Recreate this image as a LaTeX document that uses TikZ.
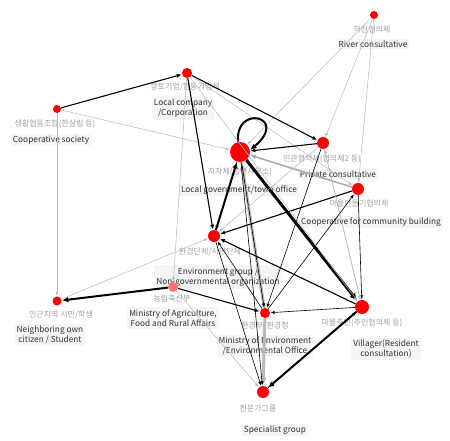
\documentclass[tikz,border=0pt]{standalone}
\usepackage{fontspec}
\setmainfont{Noto Sans CJK KR}
\usetikzlibrary{arrows.meta}
\begin{document}
\begin{tikzpicture}[x=1pt,y=-1pt,
  dot/.style={circle,fill=red,draw=none,inner sep=0pt,minimum size=#1},
  kr/.style={text=gray!75, font=\fontsize{8}{9}\selectfont, inner sep=1pt},
  en/.style={text=black!80, font=\fontsize{8.3}{10.5}\selectfont, fill=black!4, align=center, inner sep=2pt},
  e/.style={-{Latex[length=3pt 1.6,width=2.4pt 1.6]}, shorten >=0.5pt},
  tg/.style={e, draw=gray!55, line width=0.5pt},
  tb/.style={e, draw=black, line width=0.6pt},
  mb/.style={e, draw=black, line width=1.1pt},
  mg/.style={e, draw=gray!65, line width=1.6pt},
  kb/.style={e, draw=black, line width=2pt},
  kg/.style={e, draw=gray!55, line width=3pt},
  vb/.style={e, draw=black, line width=3pt}]
\useasboundingbox (0,0) rectangle (450,441);
% labels
\node[kr] (riverk) at (372,29) {하천협의체};
\node[en] (rivere) at (373,44) {River consultative};
\node[kr] (compk) at (185,87) {향토기업/협동기업체};
\node[en] (compe) at (183,108) {Local company\\/Corporation};
\node[kr] (coopk) at (55,124) {생활협동조합(한살림 등)};
\node[en] (coope) at (51,140) {Cooperative society};
\node[kr] (lgk) at (240,172) {지자체(읍면사무소)};
\node[en] (lge) at (239,190) {Local government/town office};
\node[kr] (privk) at (322,159) {민관협의체(협의체2 등)};
\node[en] (prive) at (338,174) {Private consultative};
\node[kr] (cck) at (359,203) {마을만들기협의체};
\node[en] (cce) at (371,222) {Cooperative for community building};
\node[kr] (envk) at (210,252) {환경단체/시민단체};
\node[en] (enve) at (218,277) {Environment group /\\Non-governmental organization};
\node[kr] (moak) at (172,298) {농림축산부};
\node[en] (moae) at (173,318) {Ministry of Agriculture,\\Food and Rural Affairs};
\node[kr] (nbk) at (61,315) {인근지역 시민/학생};
\node[en] (nbe) at (50,335) {Neighboring own\\citizen / Student};
\node[kr] (moek) at (265,326) {환경부/환경청};
\node[en] (moee) at (265,346) {Ministry of Environment\\/Environmental Office};
\node[kr] (vilk) at (362,323) {마을주민(주민협의체 등)};
\node[en] (vile) at (386,349) {Villager(Resident\\consultation)};
\node[kr] (speck) at (258,408) {전문가그룹};
\node[en] (spece) at (275,430) {Specialist group};
% dots
\node[dot=8pt] (river) at (374,15) {};
\node[dot=10pt] (comp) at (187,73) {};
\node[dot=8pt] (coop) at (57,109) {};
\node[dot=20pt] (lg) at (240,152) {};
\node[dot=12pt] (priv) at (323,143) {};
\node[dot=12pt] (cc) at (358,189) {};
\node[dot=12pt] (env) at (214,236) {};
\node[dot=10pt, fill=red!55] (moa) at (173,287) {};
\node[dot=9pt] (nb) at (57,301) {};
\node[dot=10pt] (moe) at (265,313) {};
\node[dot=14pt] (vil) at (362,307) {};
\node[dot=12pt] (spec) at (263,392) {};
% edges
\draw[tg] (river) -- (lg);
\draw[tg] (river) -- (priv);
\draw[tg] (river) -- (cc);
\draw[mb] (coop) -- (comp);
\draw[tg] (coop) -- (lg);
\draw[tg] (coop) -- (nb);
\draw[mb] (comp) -- (priv);
\draw[tg] (comp) -- (cc);
\draw[mb] (comp) -- (env);
\draw[tg] (comp) -- (moa);
\draw[kb] (lg.100) .. controls (234,104) and (290,116) .. (lg.10);
\draw[mb] (priv) -- (lg);
\draw[mg] (cc) -- (lg);
\draw[vb] (lg) -- (vil);
\draw[kg] (moe) -- (lg);
\draw[kb] (env) -- (lg);
\draw[tb] (lg) -- (env);
\draw[mb] (cc) -- (env);
\draw[mb] (vil) -- (env);
\draw[tg] (nb) -- (env);
\draw[kb] (moa) -- (nb);
\draw[mb] (moa) -- (moe);
\draw[tb] (vil) -- (moe);
\draw[kg] (moe) -- (spec);
\draw[kb] (vil) -- (spec);
\draw[tg] (moa) -- (spec);
\draw[tb] (lg) -- (spec);
\draw[tb] (env) -- (spec);
\draw[tb] (cc) -- (vil);
\draw[tg] (priv) -- (vil);
\draw[tb] (moe) -- (cc);
\draw[tg] (vil) -- (priv);
\draw[tb] (priv) -- (moe);
\draw[tb] (spec) -- (vil);
\draw[tb] (lg) -- (moe);
\draw[tg] (priv) -- (env);
\draw[tb] (moe) -- (env);
\draw[tg] (comp) -- (vil);
\end{tikzpicture}
\end{document}
